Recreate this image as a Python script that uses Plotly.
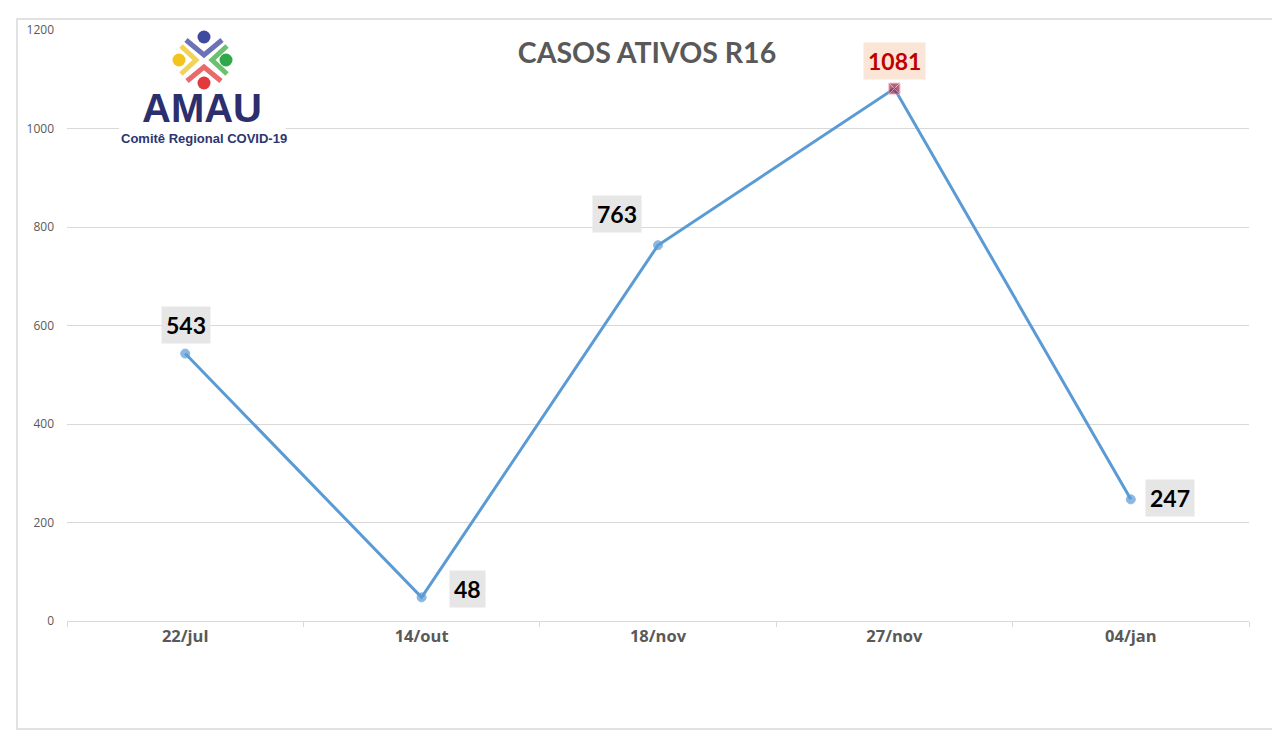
import plotly.graph_objects as go

categories = ["22/jul", "14/out", "18/nov", "27/nov", "04/jan"]
values = [543, 48, 763, 1081, 247]
y_ticks = [0, 200, 400, 600, 800, 1000, 1200]
title_text = "CASOS ATIVOS R16"
logo_name = "AMAU"
logo_sub = "Comitê Regional COVID-19"

OFF = 8  # page body margin
W, H = 1280 - OFF, 739 - OFF
# plot area in page pixels: x 67..1249, y 30..621
L, R, T, B = 67 - OFF, 1280 - 1249, 30 - OFF, 739 - 621
PW, PH = W - L - R, H - T - B


def px(x):
    return (x - OFF - L) / PW


def py(y):
    return (H - B - (y - OFF)) / PH


fig = go.Figure()
fig.add_trace(go.Scatter(
    x=categories, y=values, mode="lines+markers",
    line=dict(color="#5B9BD5", width=3),
    marker=dict(
        size=[9, 9, 9, 11, 9],
        symbol=["circle", "circle", "circle", "square-x", "circle"],
        color=["#5B9BD5", "#5B9BD5", "#5B9BD5", "#9B1D3C", "#5B9BD5"],
        line=dict(color=["#5B9BD5", "#5B9BD5", "#5B9BD5", "#E3A1B4", "#5B9BD5"], width=1),
    ),
    hoverinfo="x+y", showlegend=False,
))

# data labels
shifts = [(1, 29), (46, 8), (-41, 31), (0, 28), (39, 1)]
for i, (c, v) in enumerate(zip(categories, values)):
    hi = v == max(values)
    fig.add_annotation(
        x=c, y=v, text=str(v), showarrow=False,
        xshift=shifts[i][0], yshift=shifts[i][1],
        font=dict(family="Lato", size=23, color="#C00000" if hi else "#000000", weight="bold"),
        bgcolor="#FBE5D6" if hi else "#E7E6E6", borderpad=4,
    )

shapes = []
# outer frame
shapes.append(dict(type="rect", xref="paper", yref="paper",
                   x0=px(17), x1=px(1278), y0=py(729), y1=py(19),
                   line=dict(color="#D9D9D9", width=1.5), fillcolor="rgba(0,0,0,0)", layer="below"))
# logo white background
shapes.append(dict(type="rect", xref="paper", yref="paper",
                   x0=px(119), x1=px(286), y0=py(148), y1=py(27),
                   line=dict(width=0), fillcolor="white", layer="above"))


def chev(pts, color):
    d = "M " + " L ".join(f"{px(a):.5f},{py(b):.5f}" for a, b in pts)
    return dict(type="path", xref="paper", yref="paper", path=d,
                line=dict(color=color, width=5), layer="above")


shapes.append(chev([(186, 40), (204, 55), (222, 40)], "#6B72B5"))
shapes.append(chev([(227, 46), (212, 60), (227, 74)], "#6CC070"))
shapes.append(chev([(187, 81), (204, 67), (221, 81)], "#E86A6A"))
shapes.append(chev([(181, 46), (196, 60), (181, 74)], "#F2D35A"))


def dot(cx, cy, r, color):
    return dict(type="circle", xref="paper", yref="paper",
                x0=px(cx - r), x1=px(cx + r), y0=py(cy + r), y1=py(cy - r),
                line=dict(width=0), fillcolor=color, layer="above")


shapes.append(dot(204, 37, 6.5, "#3E4A9E"))
shapes.append(dot(226, 60, 6.5, "#2FA84A"))
shapes.append(dot(204, 83, 6.5, "#E23A3C"))
shapes.append(dot(179, 60, 6.5, "#F4C31C"))

fig.add_annotation(xref="paper", yref="paper", x=px(202), y=py(108), text=logo_name,
                   showarrow=False, xanchor="center", yanchor="middle",
                   font=dict(family="Liberation Sans", size=40, color="#2C2F6E", weight="bold"))
fig.add_annotation(xref="paper", yref="paper", x=px(204), y=py(138), text=logo_sub,
                   showarrow=False, xanchor="center", yanchor="middle",
                   font=dict(family="Liberation Sans", size=13, color="#2E3570", weight="bold"))

fig.update_layout(
    width=W, height=H,
    margin=dict(l=L, r=R, t=T, b=B),
    paper_bgcolor="white", plot_bgcolor="white",
    title=dict(text=title_text, x=px(647), xref="paper", xanchor="center",
               y=1 - (53 - OFF) / H, yref="container", yanchor="middle",
               font=dict(family="Lato", size=28.5, color="#595959", weight="bold")),
    shapes=shapes,
    xaxis=dict(type="category", range=[-0.5, 4.5], showgrid=False,
               showline=True, linecolor="#D9D9D9", linewidth=1,
               ticks="outside", tickson="boundaries", ticklen=5, tickcolor="#D9D9D9",
               tickfont=dict(family="Open Sans", size=16.5, color="#595959", weight="bold"),
               fixedrange=True),
    yaxis=dict(range=[0, 1200], tickvals=y_ticks, showgrid=True, gridcolor="#D9D9D9",
               gridwidth=1, zeroline=False, showline=False, ticks="",
               ticklabelstandoff=12,
               tickfont=dict(family="Open Sans", size=12, color="#595959"),
               fixedrange=True),
)

fig.write_html("out.html")
